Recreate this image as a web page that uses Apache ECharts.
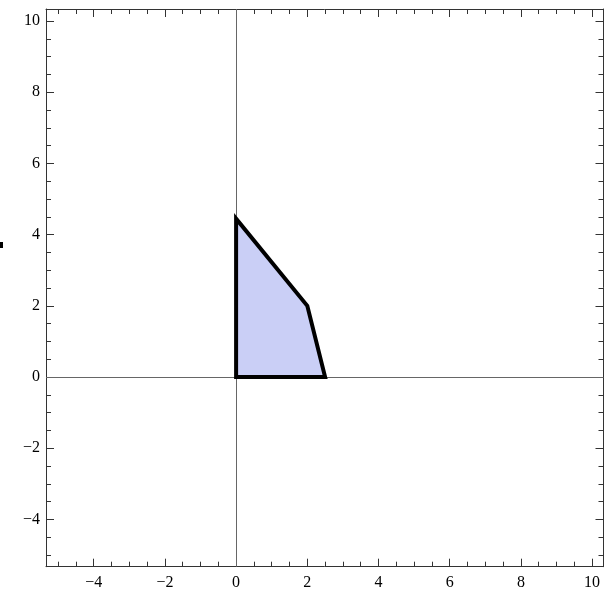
<!DOCTYPE html>
<html>
<head>
<meta charset="utf-8">
<script src="https://cdn.jsdelivr.net/npm/echarts@6/dist/echarts.min.js"></script>
<style>html,body{margin:0;padding:0;background:#fff}#c{width:608px;height:589px}</style>
</head>
<body>
<div id="c"></div>
<script>
// Region vertices (x, y)
const polyX = [0, 2.5, 2, 0];
const polyY = [0, 0, 2, 4.45];
// Plot range
const xRange = [-5.34, 10.32];
const yRange = [-5.33, 10.34];
// Tick labels / marks
const xMajor = [-4, -2, 0, 2, 4, 6, 8, 10];
const yMajor = [-4, -2, 0, 2, 4, 6, 8, 10];
const minorTicks = [-5, -4.5, -3.5, -3, -2.5, -1.5, -1, -0.5, 0.5, 1, 1.5, 2.5, 3, 3.5, 4.5, 5, 5.5, 6.5, 7, 7.5, 8.5, 9, 9.5];

const FRAME = '#333';
const fmt = v => String(v).replace('-', '\u2212');
const labelStyle = { fontFamily: 'Liberation Serif', fontSize: 16, color: '#000' };

function axisSet(range, pos, majors, labels, isX) {
  const base = { type: 'value', min: range[0], max: range[1], position: pos, splitLine: { show: false } };
  const major = Object.assign({}, base, {
    axisLine: { show: true, onZero: false, lineStyle: { color: FRAME, width: 1 } },
    axisTick: { show: true, inside: true, length: 8, customValues: majors, lineStyle: { color: FRAME, width: 1 } },
    axisLabel: labels ? Object.assign({ show: true, customValues: majors, formatter: fmt, margin: isX ? 8 : 6 }, labelStyle) : { show: false }
  });
  const minor = Object.assign({}, base, {
    axisLine: { show: false, onZero: false },
    axisTick: { show: true, inside: true, length: 5, customValues: minorTicks, lineStyle: { color: FRAME, width: 1 } },
    axisLabel: { show: false }
  });
  return [major, minor];
}

const xAxes = [].concat(axisSet(xRange, 'bottom', xMajor, true, true), axisSet(xRange, 'top', xMajor, false, true));
const yAxes = [].concat(axisSet(yRange, 'left', yMajor, true, false), axisSet(yRange, 'right', yMajor, false, false));

const polyData = polyX.map((x, i) => [x, polyY[i]]);

const chart = echarts.init(document.getElementById('c'), null, { renderer: 'canvas' });
chart.setOption({
  animation: false,
  backgroundColor: '#fff',
  grid: { left: 46, right: 4.5, top: 9, bottom: 22.3, containLabel: false, outerBoundsMode: 'none' },
  xAxis: xAxes,
  yAxis: yAxes,
  graphic: [{ type: 'rect', left: 0, top: 242, shape: { width: 3, height: 6 }, style: { fill: '#000' } }],
  series: [
    {
      type: 'line', data: [], xAxisIndex: 0, yAxisIndex: 0, silent: true,
      markLine: {
        silent: true, symbol: 'none', animation: false,
        label: { show: false },
        lineStyle: { color: '#666', width: 1, type: 'solid' },
        data: [{ xAxis: 0 }, { yAxis: 0 }]
      }
    },
    {
      type: 'custom', xAxisIndex: 0, yAxisIndex: 0, silent: true, z: 5,
      data: [0],
      renderItem: function (params, api) {
        const pts = polyData.map(p => api.coord(p));
        return {
          type: 'polygon',
          shape: { points: pts },
          style: { fill: '#cacff6', stroke: '#000', lineWidth: 4, lineJoin: 'miter' }
        };
      }
    }
  ]
});
</script>
</body>
</html>
